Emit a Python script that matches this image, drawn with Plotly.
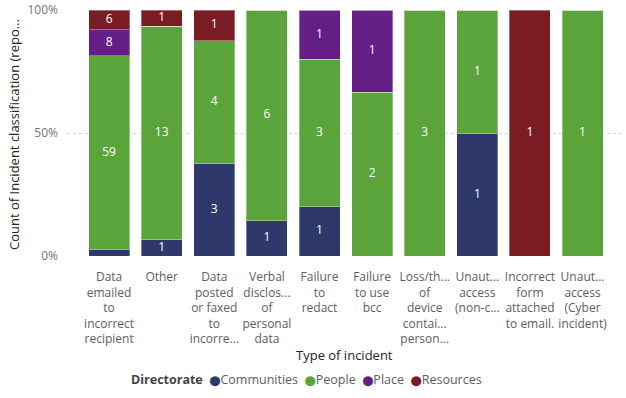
import plotly.graph_objects as go

categories = [
    "Data<br>emailed<br>to<br>incorrect<br>recipient",
    "Other",
    "Data<br>posted<br>or faxed<br>to<br>incorre...",
    "Verbal<br>disclos...<br>of<br>personal<br>data",
    "Failure<br>to<br>redact",
    "Failure<br>to use<br>bcc",
    "Loss/th...<br>of<br>device<br>contai...<br>person...",
    "Unaut...<br>access<br>(non-c...",
    "Incorrect<br>form<br>attached<br>to email.",
    "Unaut...<br>access<br>(Cyber<br>incident)",
]
communities = [2, 1, 3, 1, 1, 0, 0, 1, 0, 0]
people = [59, 13, 4, 6, 3, 2, 3, 1, 0, 1]
place = [8, 0, 0, 0, 1, 1, 0, 0, 0, 0]
resources = [6, 1, 1, 0, 0, 0, 0, 0, 1, 0]

series = [
    ("Communities", communities, "#2E386B"),
    ("People", people, "#5BA33B"),
    ("Place", place, "#641E86"),
    ("Resources", resources, "#7A1C24"),
]

totals = [sum(v) for v in zip(communities, people, place, resources)]
xs = list(range(len(categories)))

fig = go.Figure()
label_x, label_y, label_t = [], [], []
cum = [0.0] * len(xs)
for name, vals, color in series:
    fig.add_trace(go.Bar(
        x=xs, y=vals, name=name,
        marker=dict(color=color, line=dict(color="rgba(255,255,255,0.35)", width=1)),
        showlegend=False, width=0.78,
    ))
    for i, (v, t) in enumerate(zip(vals, totals)):
        share = 100.0 * v / t
        if v > 0 and share >= 5:
            label_x.append(i)
            label_y.append(cum[i] + share / 2)
            label_t.append(str(v))
        cum[i] += share

fig.add_trace(go.Scatter(
    x=label_x, y=label_y, text=label_t, mode="text",
    textfont=dict(color="white", size=12, family="Segoe UI, Open Sans, sans-serif"),
    showlegend=False, hoverinfo="skip", cliponaxis=False,
))

W, H = 626, 398
L, R, T, B = 67, 4, 10, 142
PW, PH = W - L - R, H - T - B

fig.update_layout(
    width=W, height=H,
    margin=dict(l=L, r=R, t=T, b=B, pad=0, autoexpand=False),
    barmode="stack", barnorm="percent",
    plot_bgcolor="white", paper_bgcolor="white",
    hovermode=False,
    font=dict(family="Segoe UI, Open Sans, sans-serif", color="#605E5C", size=12),
    xaxis=dict(
        range=[-0.8, 9.75], tickmode="array", tickvals=xs, ticktext=categories,
        showgrid=False, zeroline=False, showline=False, ticks="",
        tickfont=dict(size=12, color="#605E5C"), tickangle=0,
        ticklabelstandoff=12, automargin=False,
    ),
    yaxis=dict(
        range=[0, 100], tickvals=[0, 50, 100], ticktext=["0%", "50%", "100%"],
        showgrid=True, gridcolor="#D8D8D8", griddash="dot", gridwidth=1,
        zeroline=False, showline=False, ticks="", ticklabelstandoff=8,
        tickfont=dict(size=12, color="#777777"), automargin=False,
    ),
    showlegend=False,
)

def px_x(x):
    return (x - L) / PW

def px_y(y):
    return (H - B - y) / PH

legend_html = "<b style='color:#444444'>Directorate</b>  " + "".join(
    f"<span style='color:{c};font-family:DejaVu Sans;font-size:10px'>⬤</span>{n}  "
    for n, _, c in series
)
fig.add_annotation(
    text=legend_html, xref="paper", yref="paper",
    x=px_x(129), y=px_y(380),
    xanchor="left", yanchor="middle", showarrow=False,
    font=dict(size=12.5, color="#605E5C"),
)
fig.add_annotation(
    text="Type of incident", xref="paper", yref="paper",
    x=px_x(344), y=px_y(355),
    xanchor="center", yanchor="middle", showarrow=False,
    font=dict(size=13, color="#252423"),
)
fig.add_annotation(
    text="Count of Incident classification (repo...", xref="paper", yref="paper",
    x=px_x(14), y=px_y(135),
    xanchor="center", yanchor="middle", showarrow=False, textangle=-90,
    font=dict(size=13, color="#252423"),
)

fig.write_html(
    "out.html",
    config={"displayModeBar": False, "staticPlot": True},
    post_script="document.body.style.margin='0px';",
)
